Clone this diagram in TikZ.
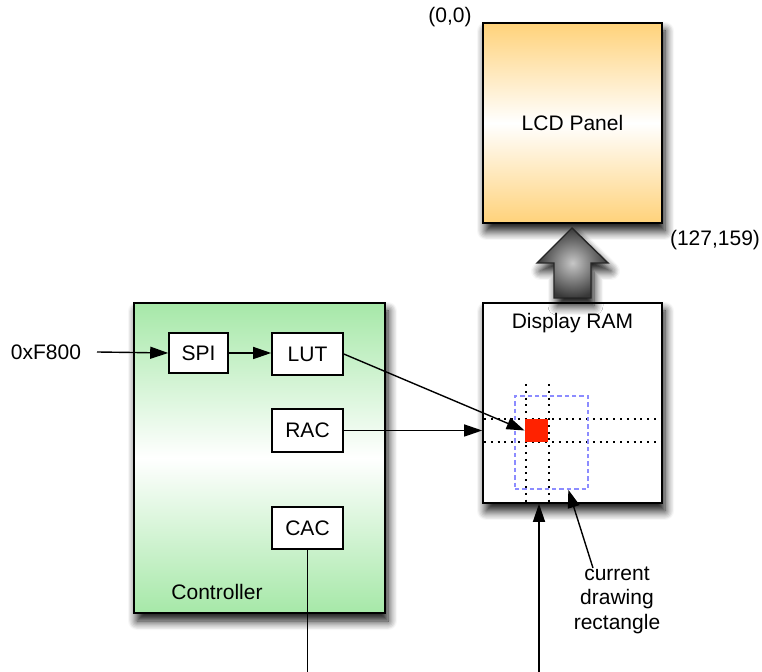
\documentclass[tikz,border=0pt]{standalone}
\usepackage{fontspec}
\setmainfont{Liberation Sans}
\usetikzlibrary{arrows.meta,shadows.blur,calc}
\definecolor{lcdor}{HTML}{FFD27A}
\definecolor{ctlgr}{HTML}{A6E8A8}
\definecolor{cdrblue}{HTML}{8C8CFF}
\definecolor{pixred}{HTML}{FF2200}
\begin{document}
\begin{tikzpicture}[x=0.5pt,y=-0.5pt,
  font=\fontsize{10.5}{12.3}\selectfont,
  box/.style={draw=black, line width=0.8pt, inner sep=0pt, fill=white},
  shad/.style={blur shadow={shadow xshift=1.5pt, shadow yshift=-4pt, shadow blur radius=4.5pt, shadow blur steps=8, shadow opacity=95}},
  conn/.style={line width=0.7pt, -{Triangle[length=9pt,width=6pt,fill=black]}},
  plain/.style={line width=0.7pt},
  dotl/.style={line width=1pt, dash pattern=on 1pt off 2.4pt},
  txt/.style={inner sep=0pt}]
\useasboundingbox (0,0) rectangle (762,672);

% LCD panel
\node[box, shad, minimum width=89.5pt, minimum height=100pt,
      top color=lcdor, bottom color=lcdor, middle color=white] (lcd) at (572.5,123) {LCD Panel};
\node[txt] (origin) at (450,17) {(0,0)};
\node[txt] (corner) at (715,240) {(127,159)};

% Display RAM
\node[box, shad, minimum width=89.5pt, minimum height=100pt] (ram) at (572.5,403) {};
\node[txt] (ramlbl) at (572.5,323) {Display RAM};

% big arrow
\path[shad, shade, inner color=black!22, outer color=black!78, draw=black!85, line width=0.7pt]
  (572,228) -- (608,263) -- (591,263) -- (591,298) -- (554,298) -- (554,263) -- (537,263) -- cycle;

% dotted guides and pixel
\draw[dotl] (526,384) -- (526,503);
\draw[dotl] (549,384) -- (549,503);
\draw[dotl] (484,419) -- (662,419);
\draw[dotl] (484,442) -- (662,442);
\node[fill=pixred, inner sep=0pt, minimum size=11.5pt] (pix) at (536.5,430.5) {};
\node[draw=cdrblue, line width=0.75pt, dash pattern=on 2.2pt off 1.5pt, inner sep=0pt,
      minimum width=36.5pt, minimum height=46.5pt] (cdr) at (551.5,442.5) {};

% Controller
\node[box, shad, minimum width=125.5pt, minimum height=155pt,
      top color=ctlgr, bottom color=ctlgr, middle color=white] (ctl) at (259.5,458) {};
\node[txt] (ctllbl) at (217,592) {Controller};

\node[box, minimum width=29.5pt, minimum height=20pt] (spi) at (198.5,353) {SPI};
\node[box, minimum width=35.5pt, minimum height=21pt] (lut) at (307.5,354) {LUT};
\node[box, minimum width=35.5pt, minimum height=21.5pt] (rac) at (307.5,430.5) {RAC};
\node[box, minimum width=35.5pt, minimum height=21pt] (cac) at (307.5,528) {CAC};

\node[txt] (src) at (46,352) {0xF800};
\coordinate (srcend) at (97,352);
\coordinate (cacend) at (307.5,672);
\coordinate (colin) at (539,672);

\node[txt, align=center] (cdrlbl) at (617,600) {current\\drawing\\rectangle};

% connectors
\draw[conn] (srcend) -- (spi.west);
\draw[conn] (spi.east) -- (lut.west |- spi.east);
\draw[conn] (lut.east) -- (pix.west);
\draw[conn] (rac.east) -- (rac.east -| ram.west);
\draw[plain] (cac.south) -- (cacend);
\draw[conn] (colin) -- (colin |- ram.south);
\draw[conn] ($(cdrlbl.north)+(-24,2)$) -- ($(cdr.south west)!0.726!(cdr.south east)$);
\end{tikzpicture}
\end{document}
